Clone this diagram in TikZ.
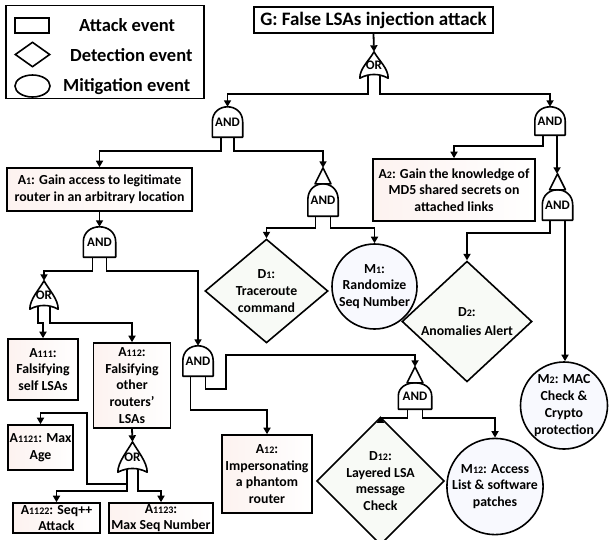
\documentclass[tikz,border=0pt]{standalone}
\usepackage{fontspec}
\setmainfont{Carlito}
\usetikzlibrary{shapes.geometric,calc,arrows.meta}

\definecolor{atkfill}{rgb}{0.99,0.95,0.94}
\definecolor{detfill}{rgb}{0.972,0.98,0.966}
\definecolor{mitfill}{rgb}{0.972,0.975,0.995}

\newcommand\boxfont{\fontsize{13.8}{16.7}\selectfont\bfseries}
\newcommand\sub[1]{{\fontsize{10}{10}\selectfont #1}}

% gate outlines, drawn from the anchors of a named gate node
\newcommand\andshape[1]{\draw[gateline] (#1.south west) -- (#1.west)
  .. controls ($(#1.west)!1.333!(#1.north west)$) and ($(#1.east)!1.333!(#1.north east)$) .. (#1.east)
  -- (#1.south east) -- cycle;}
\newcommand\orshape[1]{\draw[gateline] (#1.south west)
  .. controls ($(#1.south west)+(0,-10)$) and ($(#1.north)+(-5,9)$) .. (#1.north)
  .. controls ($(#1.north)+(5,9)$) and ($(#1.south east)+(0,-10)$) .. (#1.south east)
  .. controls ($(#1.south)+(5,-5)$) and ($(#1.south)+(-5,-5)$) .. (#1.south west) -- cycle;}
\newcommand\hatshape[1]{\draw[gateline] ($(#1.north)+(0,-16)$) -- ($(#1.north)+(-8,0)$)
  -- ($(#1.north)+(8,0)$) -- cycle;
  \coordinate (#1-top) at ($(#1.north)+(0,-16)$);}
% leg end points: name, half spacing, vertical lift
\newcommand\legs[3]{\coordinate (#1-l) at ($(#1.south)+(-#2,-#3)$);
  \coordinate (#1-r) at ($(#1.south)+(#2,-#3)$);}

\begin{document}
\begin{tikzpicture}[x=1pt,y=-1pt,
  conn/.style={line width=1.8pt,-{Triangle[length=6.5pt,width=7pt]}},
  gateline/.style={line width=1.6pt,line join=round},
  gate/.style={minimum width=30pt,minimum height=30pt,inner sep=0pt,
    font=\fontsize{13}{13}\selectfont\bfseries},
  atkbox/.style={draw,line width=1.6pt,left color=atkfill,right color=white,
    align=center,inner sep=1pt,font=\boxfont},
  detbox/.style={draw,diamond,line width=1.6pt,fill=detfill,align=center,
    inner sep=0pt,font=\boxfont},
  mitbox/.style={draw,circle,line width=1.6pt,fill=mitfill,align=center,
    inner sep=0pt,font=\boxfont},
  legtext/.style={font=\fontsize{18.5}{20}\selectfont\bfseries,anchor=west,inner sep=0pt}]
\useasboundingbox (0,0) rectangle (609,539);

% legend
\node[draw,line width=1.6pt,minimum width=198pt,minimum height=93pt] (legend) at (105,52) {};
\node[draw,line width=1.6pt,minimum width=34pt,minimum height=15pt,inner sep=0pt] (lrect) at (32,25.5) {};
\node[draw,diamond,line width=1.6pt,minimum width=35pt,minimum height=25pt,inner sep=0pt] (ldiam) at (32.5,54.5) {};
\node[draw,ellipse,line width=1.6pt,minimum width=35pt,minimum height=22pt,inner sep=0pt] (lell) at (32.5,86) {};
\node[legtext] (t1) at (79,25) {Attack event};
\node[legtext] (t2) at (70,55) {Detection event};
\node[legtext] (t3) at (63,87) {Mitigation event};

% events
\node[draw,line width=1.6pt,minimum width=239pt,minimum height=26pt,inner sep=0pt,
  font=\fontsize{19}{20}\selectfont\bfseries] (G) at (373.5,20) {G: False LSAs injection attack};
\node[atkbox,minimum width=185pt,minimum height=43pt] (A1) at (99.5,189.5)
  {A\sub{1}: Gain access to legitimate\\router in an arbitrary location};
\node[atkbox,minimum width=162pt,minimum height=62pt] (A2) at (454,190)
  {A\sub{2}: Gain the knowledge of\\MD5 shared secrets on\\attached links};
\node[detbox,minimum width=123pt,minimum height=92pt] (D1) at (266.5,291)
  {D\sub{1}:\\Traceroute\\command};
\node[mitbox,minimum size=85pt] (M1) at (374.5,286.5) {M\sub{1}:\\Randomize\\Seq Number};
\node[detbox,minimum width=130pt,minimum height=97pt] (D2) at (467,321.5)
  {D\sub{2}:\\[3pt]Anomalies Alert};
\node[mitbox,minimum size=87pt] (M2) at (564,405.5) {M\sub{2}: MAC\\Check \&\\Crypto\\protection};
\node[atkbox,minimum width=70pt,minimum height=61pt] (A111) at (43,369.5)
  {A\sub{111}:\\Falsifying\\self LSAs};
\node[atkbox,minimum width=77pt,minimum height=85pt] (A112) at (132,385.5)
  {A\sub{112}:\\Falsifying\\other\\routers’\\LSAs};
\node[atkbox,minimum width=65pt,minimum height=45pt] (A1121) at (40.5,447.5)
  {A\sub{1121}: Max\\Age};
\node[atkbox,minimum width=87pt,minimum height=30pt] (A1122) at (56.5,518)
  {A\sub{1122}: Seq++\\Attack};
\node[atkbox,minimum width=104pt,minimum height=30pt] (A1123) at (161,518)
  {A\sub{1123}:\\Max Seq Number};
\node[atkbox,minimum width=90pt,minimum height=78pt] (A12) at (267,474)
  {A\sub{12}:\\Impersonating\\a phantom\\router};
\node[detbox,minimum width=125pt,minimum height=92pt] (D12) at (380.5,481)
  {D\sub{12}:\\Layered LSA\\message\\Check};
\node[mitbox,minimum size=93pt] (M12) at (495,486.5) {M\sub{12}: Access\\List \& software\\patches};

% gates
\node[gate,minimum width=28pt,minimum height=26pt] (or0) at (374,65) {OR};
\orshape{or0}\legs{or0}{6}{3.2}
\node[gate] (and1) at (227.5,122) {AND};
\andshape{and1}\legs{and1}{6.5}{0}
\node[gate,minimum height=28pt] (and2) at (550,121) {AND};
\andshape{and2}\legs{and2}{7}{0}
\node[gate,minimum height=32pt] (and3) at (323,200) {AND};
\andshape{and3}\hatshape{and3}\legs{and3}{7.5}{0}
\node[gate] (and4) at (557.5,205) {AND};
\andshape{and4}\hatshape{and4}\legs{and4}{7.5}{0}
\node[gate,minimum width=32pt] (and5) at (99.5,242) {AND};
\andshape{and5}\legs{and5}{7}{0}
\node[gate,minimum width=28pt,minimum height=28pt] (or1) at (44,295) {OR};
\orshape{or1}\legs{or1}{6}{3.2}
\node[gate,minimum width=29pt] (or2) at (132.5,457) {OR};
\orshape{or2}\legs{or2}{5.5}{3.2}
\node[gate] (and6) at (198,361) {AND};
\andshape{and6}\legs{and6}{7.5}{0}
\node[gate,minimum width=33pt,minimum height=26pt] (and7) at (415,396) {AND};
\andshape{and7}\hatshape{and7}\legs{and7}{7.5}{0}

% bend points of the longer connectors
\coordinate (bendA) at (87,413);
\coordinate (bendB) at (226,355);

% connectors
\draw[conn] (G.south) -- (or0.north);
\draw[conn] (or0-l) -- ++(0,18.8) -| (and1.north);
\draw[conn] (or0-r) -- ++(0,18.8) -| (and2.north);
\draw[conn] (and1-l) -- ++(0,14) -| (A1.north);
\draw[conn] (and1-r) -- ++(0,14) -| (and3-top);
\draw[conn] (and2-l) -- ++(0,11) -| (A2.north);
\draw[conn] (and2-r) -- (and2-r |- and4-top);
\draw[conn] (and3-l) -- ++(0,12) -| (D1.north);
\draw[conn] (and3-r) -- ++(0,12) -| (M1.north);
\draw[conn] (and4-l) -- ++(0,13) -| (D2.north);
\draw[conn] (and4-r) -- (and4-r |- M2.north);
\draw[conn] (A1.south) -- (and5.north);
\draw[conn] (and5-l) -- ++(0,14) -| (or1.north);
\draw[conn] (and5-r) -- ++(0,14) -| (and6.north);
\draw[conn] (or1-l) -- ++(0,17) -| (A111.north);
\draw[conn] (or1-r) -- ++(0,17) -| (A112.north);
\draw[conn] (A112.south) -- (or2.north);
\draw[conn] (or2-l) -- ++(0,15) -| (bendA) -| (A1121.north);
\draw[conn] (or2-l) -- ++(0,22) -| (A1122.north);
\draw[conn] (or2-r) -- ++(0,22) -| (A1123.north);
\draw[conn] (and6-l) -- ++(0,34) -| (A12.north);
\draw[conn] (and6-r) -- ++(0,13) -| (bendB) -| (and7-top);
\draw[conn] (and7-l) -- ++(0,9) -| (D12.north);
\draw[conn] (and7-r) -- ++(0,9) -| (M12.north);
\end{tikzpicture}
\end{document}
